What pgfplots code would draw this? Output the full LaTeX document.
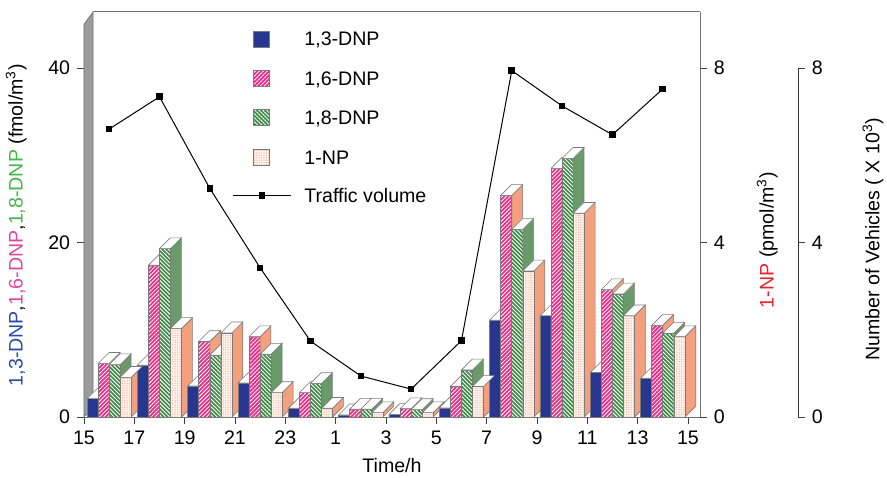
\documentclass[border=0pt]{standalone}
\usepackage{fontspec}
\setmainfont{Liberation Sans}
\usepackage{pgfplots}
\usepackage{pgfplotstable}
\pgfplotsset{compat=1.18}
\usetikzlibrary{patterns.meta}

\definecolor{dnpblue}{HTML}{27378F}
\definecolor{blueside}{HTML}{1E2B75}
\definecolor{dnppink}{HTML}{E62E87}
\definecolor{dnpgreen}{HTML}{3F8A45}
\definecolor{greenside}{HTML}{6A9A6A}
\definecolor{npfill}{HTML}{FFF2EA}
\definecolor{npdot}{HTML}{F2AE98}
\definecolor{salmon}{HTML}{F4A07E}
\definecolor{edge}{HTML}{7A7A7A}
\definecolor{wall}{HTML}{9C9C9C}
\definecolor{axisgray}{HTML}{707070}
\definecolor{lblue}{HTML}{2A4AA8}
\definecolor{lpink}{HTML}{E0479B}
\definecolor{lgreen}{HTML}{45B548}
\definecolor{lred}{HTML}{E8232A}

% h = hours after 15:00; a,b,c = 1,3- 1,6- 1,8-DNP (fmol/m3); np = 1-NP (pmol/m3); tv = vehicles (x10^3)
\pgfplotstableread{
h  a     b     c      np    tv
1  2.1   6.15  6.0    0.91  6.60
3  5.95  17.4  19.3   2.03  7.34
5  3.55  8.65  7.1    1.93  5.24
7  3.9   9.2   7.2    0.56  3.42
9  1.0   2.8   3.85   0.20  1.74
11 0.25  0.9   0.9    0.10  0.94
13 0.3   0.95  0.85   0.10  0.64
15 1.05  3.5   5.4    0.70  1.75
17 11.1  25.4  21.5   3.35  7.94
19 11.6  28.5  29.65  4.67  7.13
21 5.1   14.6  14.1   2.32  6.47
23 4.45  10.5  9.6    1.84  7.52
}\data

\def\hb{2.768}
\def\dep{5.4}
\pgfdeclareplotmark{none3d}{}

\pgfplotsset{
  common/.style={scale only axis, width=308pt, height=202.5pt,
    xmin=0, xmax=24.48, ymin=0, clip=false, clip marker paths=true,
    at={(0,0)}, anchor=south west,
    /pgf/number format/assume math mode=true},
  frontbar/.style={ybar, bar width=0.44, bar shift=#1, draw=edge, line width=0.3pt},
  sideface/.style n args={4}{% side colour, shift (pt), pt per unit, column
    forget plot, only marks, scatter, mark=none3d,
    visualization depends on={\thisrow{#4}\as\val},
    scatter/@pre marker code/.code={%
      \pgfmathsetmacro\hgt{\val*#3}%
      \pgfmathsetmacro\xa{#2+\hb}%
      \pgfmathsetmacro\xb{#2+\hb+\dep}%
      \filldraw[fill=#1, draw=edge, line width=0.3pt]
        (\xa pt,0pt) -- (\xb pt,\dep pt) -- (\xb pt,\dep pt-\hgt pt) -- (\xa pt,-\hgt pt) -- cycle;},
    scatter/@post marker code/.code={}},
  topface/.style={% shift (pt)
    forget plot, only marks, scatter, mark=none3d,
    scatter/@pre marker code/.code={%
      \pgfmathsetmacro\xa{#1-\hb}%
      \pgfmathsetmacro\xb{#1+\hb}%
      \filldraw[fill=white, draw=edge, line width=0.3pt]
        (\xa pt,0pt) -- (\xa pt+\dep pt,\dep pt) -- (\xb pt+\dep pt,\dep pt) -- (\xb pt,0pt) -- cycle;},
    scatter/@post marker code/.code={}},
  legsq/.style={legend image code/.code={\filldraw[##1] (10pt,-4pt) rectangle (18pt,4pt);}},
  legline/.style={legend image code/.code={\draw[mark repeat=2, mark phase=2, ##1]
    plot coordinates {(0pt,0pt) (14.5pt,0pt) (29pt,0pt)};}},
  pinkfill/.style={fill=dnppink, postaction={pattern color=white,
    pattern={Lines[angle=45, distance=1.4pt, line width=0.4pt]}}},
  greenfill/.style={fill=dnpgreen, postaction={pattern color=white,
    pattern={Lines[angle=-45, distance=1.4pt, line width=0.45pt]}}},
  npfillst/.style={fill=npfill, postaction={pattern color=npdot,
    pattern={Dots[distance=1.2pt, radius=0.3pt]}}},
}

\begin{document}
\fontsize{9.8}{11.5}\selectfont
\begin{tikzpicture}
% side faces of the 1-NP bars first, so that the next group's front faces hide them
\begin{axis}[common, ymax=9.284, hide axis]
\addplot[sideface={salmon}{8.304}{21.812}{np}] table[x=h, y=np]{\data};
\end{axis}

\begin{axis}[common, ymax=46.42,
  axis x line*=bottom, axis y line*=left,
  y axis line style={draw=none},
  x axis line style={draw=axisgray, line width=0.5pt, -},
  xtick={0,2,...,24}, xticklabels={15,17,19,21,23,1,3,5,7,9,11,13,15},
  ytick={0,20,40},
  tick align=outside, major tick length=3.5pt,
  tick style={black!75, line width=0.4pt},
  xlabel={Time/h},
  ylabel={{\color{lblue}1,3-DNP},{\color{lpink}1,6-DNP},{\color{lgreen}1,8-DNP} (fmol/m\textsuperscript{3})},
  ylabel style={at={(axis description cs:-0.11,0.474)}, anchor=center},
]
\filldraw[fill=wall, draw=black!55, line width=0.4pt] (axis cs:0,0) -- (axis cs:0,45.0)
  -- (axis cs:0.36,46.42) -- (axis cs:0.36,1.2) -- cycle;
\draw[axisgray, line width=0.5pt] (axis cs:0.36,46.42) -- (axis cs:24.48,46.42);

\addplot[frontbar=-0.66, fill=dnpblue] table[x=h, y=a]{\data};
\addplot[sideface={blueside}{-8.304}{4.3624}{a}] table[x=h, y=a]{\data};
\addplot[topface=-8.304] table[x=h, y=a]{\data};

\addplot[frontbar=-0.22, pinkfill] table[x=h, y=b]{\data};
\addplot[sideface={salmon}{-2.768}{4.3624}{b}] table[x=h, y=b]{\data};
\addplot[topface=-2.768] table[x=h, y=b]{\data};

\addplot[frontbar=0.22, greenfill] table[x=h, y=c]{\data};
\addplot[sideface={greenside}{2.768}{4.3624}{c}] table[x=h, y=c]{\data};
\addplot[topface=2.768] table[x=h, y=c]{\data};
\end{axis}

\begin{axis}[common, ymax=9.284,
  hide x axis, axis y line*=right,
  y axis line style={draw=axisgray, line width=0.5pt, -},
  ytick={0,4,8}, tick align=outside, major tick length=3.5pt,
  tick style={black!75, line width=0.4pt},
  ylabel={{\color{lred}1-NP} (pmol/m\textsuperscript{3})},
  ylabel style={at={(axis description cs:1.109,0.437)}, anchor=center},
  legend cell align=left,
  legend style={at={(axis description cs:0.2403,0.955)}, anchor=north west,
    draw=none, fill=none, inner sep=0pt, row sep=11.4pt, column sep=6.5pt,
    nodes={inner sep=0pt, text height=7pt, text depth=0pt}},
]
\addlegendimage{legsq, fill=dnpblue, draw=edge, line width=0.3pt}
\addlegendentry{1,3-DNP}
\addlegendimage{legsq, pinkfill, draw=edge, line width=0.3pt}
\addlegendentry{1,6-DNP}
\addlegendimage{legsq, greenfill, draw=edge, line width=0.3pt}
\addlegendentry{1,8-DNP}
\addplot[frontbar=0.66, npfillst, legsq] table[x=h, y=np]{\data};
\addlegendentry{1-NP}
\addplot[topface=8.304] table[x=h, y=np]{\data};
\addplot[black, line width=0.5pt, mark=square*, mark size=1.4pt, legline]
  table[x=h, y=tv]{\data};
\addlegendentry{Traffic volume}
\end{axis}

\begin{axis}[scale only axis, width=357pt, height=174.5pt, at={(0,0)}, anchor=south west,
  xmin=0, xmax=1, ymin=0, ymax=8,
  hide x axis, axis y line*=right,
  y axis line style={draw=black!80, line width=0.5pt, -},
  ytick={0,4,8}, tick align=outside, major tick length=3.5pt,
  tick style={black!75, line width=0.4pt},
  /pgf/number format/assume math mode=true,
  ylabel={Number of Vehicles ( X 10\textsuperscript{3})},
  ylabel style={at={(axis description cs:1.105,0.51)}, anchor=center},
]
\end{axis}

\pgfresetboundingbox
\path (-42pt,-30pt) rectangle (401.5pt,208.5pt);
\end{tikzpicture}
\end{document}
